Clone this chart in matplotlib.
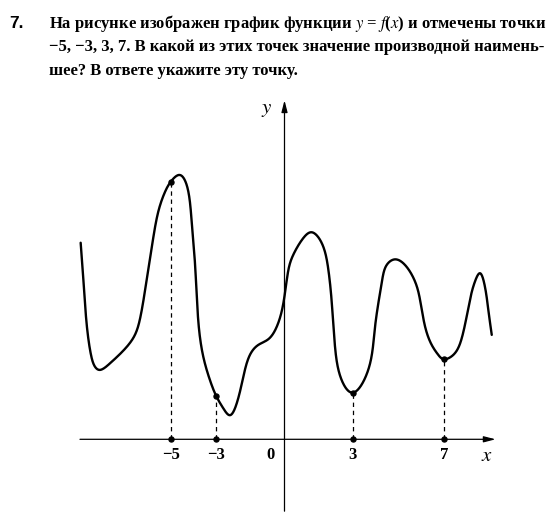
import numpy as np
import matplotlib
matplotlib.use('Agg')
import matplotlib.pyplot as plt

plt.rcParams['mathtext.fontset'] = 'stix'

# points (data units: one unit per x tick step)
curve_x = [-8.96, -8.84, -8.70, -8.52, -8.33, -8.11, -7.67, -7.16, -6.65, -6.35,
           -6.06, -5.84, -5.55, -5.25, -5.0, -4.62, -4.30, -4.08, -3.93, -3.79,
           -3.57, -3.28, -3.0, -2.69, -2.40, -2.10, -1.81, -1.52, -1.15, -0.71,
           -0.34, -0.05, 0.17, 0.39, 0.83, 1.20, 1.64, 1.93, 2.08, 2.22,
           2.51, 3.0, 3.68, 3.98, 4.27, 4.49, 4.86, 5.30, 5.74, 5.96,
           6.18, 6.47, 6.76, 7.0, 7.42, 7.79, 8.15, 8.37, 8.59, 8.81,
           8.96, 9.11]
curve_y = [8.64, 7.00, 5.10, 3.78, 3.19, 3.05, 3.34, 3.82, 4.45, 5.30,
           7.00, 8.40, 10.00, 10.88, 11.32, 11.62, 11.18, 9.57, 7.66, 5.20,
           3.63, 2.61, 1.90, 1.36, 1.06, 1.58, 2.75, 3.71, 4.15, 4.40,
           4.95, 5.98, 7.44, 8.12, 8.85, 9.10, 8.62, 7.44, 5.98, 4.07,
           2.61, 2.05, 3.05, 4.95, 6.86, 7.66, 7.91, 7.66, 6.93, 6.12,
           4.95, 4.15, 3.71, 3.52, 3.71, 4.44, 6.12, 6.93, 7.30, 6.71,
           5.68, 4.59]
marked_x = [-5, -3, 3, 7]
tick_labels = ['\u22125', '\u22123', '0', '3', '7']
tick_pos = [-5, -3, -0.62, 3, 7]


def natural_spline(t, v, tt):
    k = len(t)
    h = np.diff(t)
    A = np.zeros((k, k))
    b = np.zeros(k)
    A[0, 0] = A[-1, -1] = 1
    for i in range(1, k - 1):
        A[i, i - 1] = h[i - 1]
        A[i, i] = 2 * (h[i - 1] + h[i])
        A[i, i + 1] = h[i]
        b[i] = 6 * ((v[i + 1] - v[i]) / h[i] - (v[i] - v[i - 1]) / h[i - 1])
    M = np.linalg.solve(A, b)
    i = np.clip(np.searchsorted(t, tt) - 1, 0, k - 2)
    a = t[i + 1] - tt
    c = tt - t[i]
    return (M[i] * a ** 3 + M[i + 1] * c ** 3) / (6 * h[i]) \
        + (v[i] / h[i] - M[i] * h[i] / 6) * a + (v[i + 1] / h[i] - M[i + 1] * h[i] / 6) * c


def smooth_curve(xk, yk, n=3000):
    # parametric spline, centripetal spacing of the knots
    xk = np.asarray(xk, float)
    yk = np.asarray(yk, float)
    t = np.concatenate([[0], np.cumsum(np.hypot(np.diff(xk), np.diff(yk)) ** 0.5)])
    tt = np.linspace(0, t[-1], n)
    return natural_spline(t, xk, tt), natural_spline(t, yk, tt)


fig = plt.figure(figsize=(5.6, 5.19), dpi=100)
ax = fig.add_axes([0, 0, 1, 1])
sc = 22.75
ax.set_xlim(-284.5 / sc, (560 - 284.5) / sc)
ax.set_ylim((439.3 - 519) / sc, 439.3 / sc)
ax.axis('off')

# axes with arrows
ax.annotate('', xy=(9.28, 0), xytext=(-8.99, 0),
            arrowprops=dict(arrowstyle='-|>,head_length=0.7,head_width=0.18', lw=0.9, color='black',
                            shrinkA=0, shrinkB=0))
ax.annotate('', xy=(0, 14.9), xytext=(0, -3.16),
            arrowprops=dict(arrowstyle='-|>,head_length=0.7,head_width=0.18', lw=0.9, color='black',
                            shrinkA=0, shrinkB=0))

cx, cy = smooth_curve(curve_x, curve_y)
ax.plot(cx, cy, color='black', lw=1.7, solid_capstyle='round')

for mx in marked_x:
    my = curve_y[curve_x.index(mx)]
    ax.plot([mx, mx], [0, my], color='black', lw=0.9, ls=(0, (3.5, 3)))
    ax.plot([mx, mx], [0, my], 'o', color='black', ms=3.6)

for lab, xp in zip(tick_labels, tick_pos):
    ax.text(xp, -0.7, lab, ha='center', va='center', fontsize=12,
            fontweight='bold', family='Liberation Serif')
ax.text(8.9, -0.7, r'$x$', ha='center', va='center', fontsize=15)
ax.text(-0.8, 14.5, r'$y$', ha='center', va='center', fontsize=15)

# problem text
fig.text(9 / 560, 1 - 23 / 519, '7.', ha='left', va='center', fontsize=12.5,
         fontweight='bold', family='Liberation Sans')
lines = [r'На рисунке изображен график функции $y$ = $f$($x$) и отмечены точки',
         '\u22125, \u22123, 3, 7. В какой из этих точек значение производной наимень-',
         'шее? В ответе укажите эту точку.']
line_y = [23, 47, 71]
for s, yy in zip(lines, line_y):
    fig.text(49 / 560, 1 - yy / 519, s, ha='left', va='center', fontsize=12,
             fontweight='bold', family='Liberation Serif')

fig.savefig('out.png', dpi=100)
